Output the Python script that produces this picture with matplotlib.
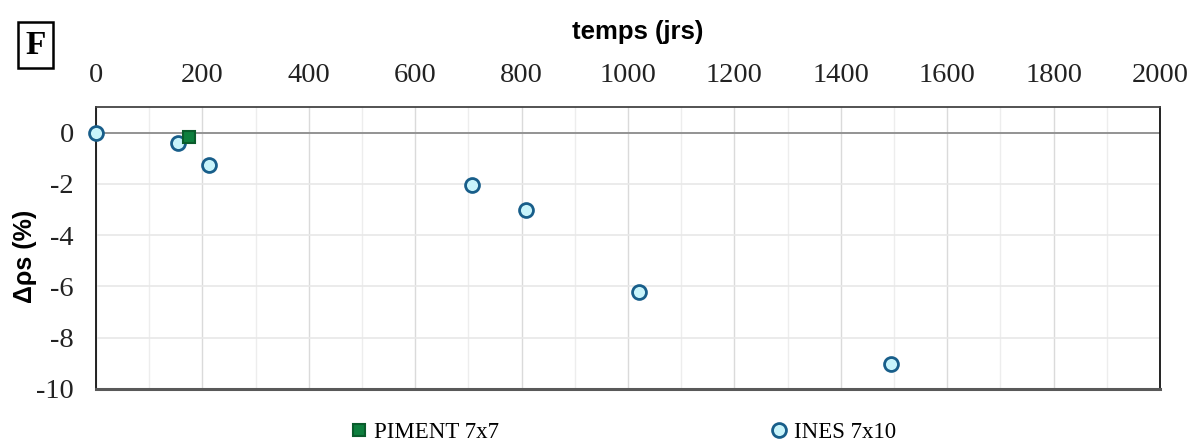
import matplotlib
matplotlib.use("Agg")
import matplotlib.pyplot as plt
from matplotlib.patches import Rectangle
from matplotlib.ticker import MultipleLocator

plt.rcParams['axes.unicode_minus'] = False

# données
jours_ines = [0, 154, 213, 706, 809, 1021, 1495]
drho_ines = [0, -0.39, -1.28, -2.03, -3.0, -6.23, -9.02]
jours_piment = [175]
drho_piment = [-0.16]
x_ticks = list(range(0, 2001, 200))
y_ticks = [0, -2, -4, -6, -8, -10]

serif = ['Liberation Serif', 'DejaVu Serif']
sans = ['Liberation Sans', 'DejaVu Sans']

fig = plt.figure(figsize=(11.94, 4.41), dpi=100)
ax = fig.add_axes([96 / 1194, 1 - 389 / 441, 1064 / 1194, 282 / 441])

# grille
ax.set_xlim(0, 2000)
ax.set_ylim(-10, 1)
ax.set_xticks(x_ticks)
ax.xaxis.set_minor_locator(MultipleLocator(100))
ax.set_yticks(y_ticks)
ax.grid(which='major', axis='x', color='#DADADA', lw=1.0)
ax.grid(which='minor', axis='x', color='#EDEDED', lw=1.0)
ax.grid(which='major', axis='y', color='#E8E8E8', lw=1.2)
ax.set_axisbelow(True)
ax.axhline(0, color='#8C8C8C', lw=1.3, zorder=1)

ax.xaxis.tick_top()
ax.tick_params(axis='both', which='both', length=0, labelsize=20.5,
               labelcolor='#222222')
ax.tick_params(axis='x', pad=14)
ax.tick_params(axis='y', pad=16)
for lab in ax.get_xticklabels() + ax.get_yticklabels():
    lab.set_family(serif)

for s in ['left', 'right']:
    ax.spines[s].set_color('#111111')
    ax.spines[s].set_linewidth(1.3)
ax.spines['top'].set_color('#444444')
ax.spines['top'].set_linewidth(1.3)
ax.spines['bottom'].set_color('#595959')
ax.spines['bottom'].set_linewidth(2.2)

# séries
ax.plot(jours_piment, drho_piment, ls='none', marker='s', ms=8.5,
        mfc='#0E7F3E', mec='#0A5C2C', mew=1.5, label='PIMENT 7x7', zorder=4)
ax.plot(jours_ines, drho_ines, ls='none', marker='o', ms=10,
        mfc='#C8F4FB', mec='#185E8A', mew=2.0, label='INES 7x10', zorder=3,
        clip_on=False)

ax.set_xlabel('temps (jrs)', fontsize=18.5, fontweight='bold', family=sans)
ax.xaxis.set_label_position('top')
ax.xaxis.set_label_coords((638 - 96) / 1064, (389 - 39) / 282)
ax.set_ylabel('Δρs (%)', fontsize=18, fontweight='bold', family=sans)
ax.yaxis.set_label_coords((37 - 96) / 1064, (389 - 256) / 282)

fig.legend(loc='center', bbox_to_anchor=(624 / 1194, 1 - 432 / 441), ncol=2,
           frameon=False, handlelength=0.6, handletextpad=0.35,
           columnspacing=11.9, prop={'family': serif, 'size': 16.5},
           borderpad=0, borderaxespad=0)

# cadre "F"
fig.patches.append(Rectangle((18 / 1194, 1 - 68 / 441), 35 / 1194, 46 / 441,
                             transform=fig.transFigure, fill=False,
                             ec='black', lw=1.8))
fig.text(35.5 / 1194, 1 - 46 / 441, 'F', fontsize=24, fontweight='bold',
         family=serif, ha='center', va='center')

fig.savefig('out.png', dpi=100)
